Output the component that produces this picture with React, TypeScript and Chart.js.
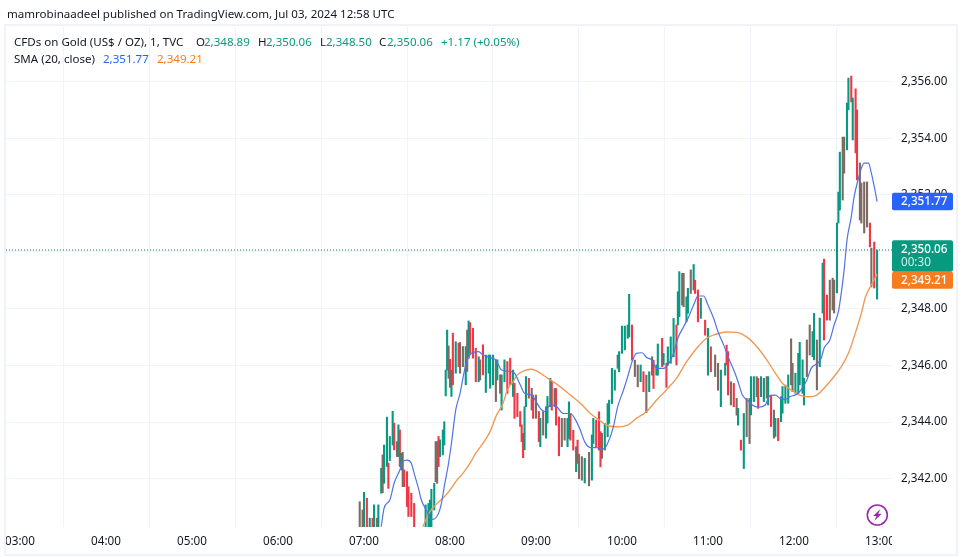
import React, { useEffect, useRef } from "react";
import { Chart, registerables } from "chart.js";

Chart.register(...registerables);

const FONT = "'Noto Sans', sans-serif";

const publishedLine = "mamrobinaadeel published on TradingView.com, Jul 03, 2024 12:58 UTC";
const instrumentName = "CFDs on Gold (US$ / OZ), 1, TVC";
const smaName = "SMA (20, close)";

const hourTicks = [180, 240, 300, 360, 420, 480, 540, 600, 660, 720, 780];
const priceTicks = [2342, 2344, 2346, 2348, 2350, 2352, 2354, 2356];

const lastClose = 2350.06;
const lastBlue = 2351.77;
const lastOrange = 2349.21;
const countdown = "00:30";

const candleMinutes = [
  417, 419, 420, 422, 424, 426, 427, 429, 430, 432,
  433, 434, 436, 437, 438, 440, 441, 443, 444, 445,
  446, 447, 448, 450, 451, 453, 455, 463, 465, 466,
  467, 469, 470, 471, 472, 473, 475, 476, 477, 478,
  479, 480, 481, 482, 484, 486, 487, 489, 491, 492,
  493, 494, 496, 498, 500, 501, 503, 505, 507, 508,
  510, 512, 513, 515, 516, 518, 520, 522, 524, 525,
  527, 529, 530, 531, 532, 533, 535, 537, 538, 540,
  542, 543, 545, 547, 548, 550, 551, 553, 554, 556,
  558, 560, 562, 563, 564, 566, 568, 569, 570, 572,
  574, 577, 579, 580, 582, 584, 585, 586, 588, 590,
  591, 593, 595, 597, 598, 600, 602, 604, 605, 607,
  609, 611, 613, 615, 617, 619, 621, 622, 624, 625,
  628, 629, 631, 632, 634, 636, 638, 639, 640, 642,
  643, 645, 646, 648, 650, 651, 653, 655, 658, 660,
  662, 665, 667, 669, 672, 673, 674, 676, 678, 680,
  681, 683, 685, 687, 689, 690, 692, 694, 695, 697,
  699, 701, 702, 704, 706, 707, 709, 711, 712, 714,
  716, 718, 719, 721, 723, 724, 726, 727, 729, 731,
  733, 734, 736, 738, 740, 741, 743, 745, 747, 748,
  750, 751, 752, 754, 755, 757, 758, 760, 761, 763,
  764, 766, 767, 769, 771, 773, 774, 776, 778,
];

const candleHighs = [
  2341.19, 2340.9, 2341.52, 2341.31, 2340.61, 2340.61, 2341.08, 2340.61, 2341.08, 2342.37,
  2342.84, 2343.19, 2344.17, 2342.55, 2343.49, 2344.38, 2343.96, 2343.31, 2343.9, 2343.72,
  2342.9, 2342.93, 2342.31, 2342.25, 2341.72, 2341.49, 2341.13, 2341.08, 2341.13, 2341.25,
  2341.63, 2341.84, 2343.31, 2343.31, 2343.49, 2343.37, 2343.72, 2344.01, 2345.83, 2347.24,
  2346.68, 2346.21, 2345.83, 2347.13, 2346.83, 2346.78, 2346.8, 2346.66, 2346.66, 2347.24,
  2347.56, 2347.5, 2347.3, 2346.6, 2346.3, 2346.19, 2346.72, 2346.36, 2346.36, 2346.36,
  2346.36, 2346.19, 2346.19, 2345.66, 2345.66, 2346.19, 2346.13, 2346.25, 2345.83, 2345.36,
  2345.01, 2344.37, 2343.9, 2343.6, 2344.54, 2345.6, 2345.54, 2345.19, 2344.95, 2344.95,
  2344.37, 2344.13, 2344.37, 2344.54, 2344.9, 2345.54, 2345.44, 2345.18, 2345.18, 2344.18,
  2344.13, 2344.13, 2344.13, 2344.71, 2344.3, 2343.71, 2343.13, 2343.36, 2342.87, 2342.78,
  2342.72, 2342.93, 2343.54, 2344.13, 2344.07, 2344.36, 2343.66, 2343.6, 2343.95, 2344.65,
  2344.77, 2345.89, 2345.83, 2346.36, 2346.48, 2347.38, 2347.38, 2347.42, 2348.5, 2347.42,
  2346.18, 2346.01, 2346.01, 2345.77, 2345.65, 2345.77, 2346.3, 2346.18, 2346.01, 2346.75,
  2346.95, 2346.42, 2346.07, 2346.65, 2347, 2347.65, 2347.42, 2348.59, 2349.3, 2349.24,
  2349.24, 2348.41, 2348.71, 2349.36, 2349.55, 2349, 2348.65, 2348.36, 2347.59, 2347.3,
  2346.65, 2346.36, 2346.07, 2345.83, 2346.07, 2346.71, 2346.48, 2345.42, 2345.36, 2344.83,
  2344.48, 2343.36, 2344.3, 2344.83, 2344.83, 2345.6, 2345.6, 2345.6, 2345.54, 2345.6,
  2345.54, 2345.6, 2345.6, 2344.95, 2344.42, 2344.13, 2344.13, 2344.89, 2345.25, 2345.3,
  2345.66, 2346.93, 2346.07, 2345.72, 2346.42, 2346.81, 2346.19, 2345.54, 2346.89, 2347.42,
  2347.19, 2347.83, 2346.89, 2347.66, 2349.6, 2349.74, 2348.47, 2349, 2349.07, 2349,
  2351.01, 2352.1, 2353.51, 2354.04, 2354.04, 2355.24, 2356.12, 2356.19, 2355.42, 2355.74,
  2355, 2353.13, 2352.42, 2352.46, 2352.46, 2351.01, 2350.13, 2350.34, 2350.06,
];

const candleLows = [
  2340, 2340, 2340, 2340, 2340, 2340, 2340, 2340, 2340, 2341.49,
  2341.51, 2341.84, 2342.43, 2341.66, 2342.64, 2343.19, 2343.02, 2342.78, 2342.78, 2342.43,
  2342.31, 2341.72, 2341.72, 2341.02, 2340.67, 2340.67, 2340.31, 2340, 2340, 2340,
  2340, 2340.9, 2341.9, 2341.84, 2342.43, 2342.78, 2342.84, 2343.19, 2344.92, 2345.83,
  2345.54, 2345.22, 2344.9, 2345.31, 2345.72, 2345.95, 2345.72, 2345.95, 2345.31, 2345.78,
  2346.25, 2346.42, 2346.25, 2345.42, 2345.42, 2345.48, 2345.66, 2345.04, 2345.72, 2345.19,
  2345.31, 2344.72, 2345.48, 2345.01, 2344.42, 2345.42, 2345.01, 2345.31, 2344.9, 2344.13,
  2344.19, 2343.84, 2343.31, 2342.74, 2343.02, 2344.54, 2344.84, 2344.42, 2344.13, 2344.13,
  2343.31, 2343.13, 2343.54, 2343.43, 2343.96, 2344.54, 2344.42, 2344.54, 2343.89, 2342.81,
  2343.13, 2343.36, 2343.13, 2343.42, 2343.36, 2343.01, 2342.25, 2342.54, 2342, 2341.95,
  2341.85, 2341.75, 2341.95, 2343.24, 2343.13, 2343.01, 2342.42, 2342.72, 2343.01, 2343.48,
  2343.95, 2344.65, 2345.12, 2345.89, 2345.77, 2346.42, 2346.54, 2346.95, 2347, 2346.18,
  2345.6, 2345.24, 2345.42, 2345.07, 2344.33, 2345.07, 2345.65, 2345.18, 2345.65, 2345.65,
  2345.95, 2346.01, 2345.22, 2346.01, 2346.07, 2346.3, 2346.01, 2347.42, 2347.71, 2348.12,
  2348.06, 2347.53, 2347.83, 2348.53, 2348.65, 2348.53, 2347.53, 2347.65, 2347.06, 2345.65,
  2345.77, 2345.6, 2345.12, 2344.54, 2345.65, 2346.01, 2344.95, 2344.6, 2344.54, 2344.24,
  2343.89, 2343.01, 2342.36, 2343.48, 2343.24, 2344.25, 2344.72, 2344.89, 2344.48, 2344.89,
  2344.72, 2344.84, 2344.6, 2343.84, 2343.43, 2343.49, 2343.34, 2344.01, 2344.31, 2344.66,
  2344.66, 2345.31, 2345.07, 2345.01, 2345.01, 2345.31, 2345.01, 2344.6, 2345.6, 2346.36,
  2346.3, 2346.19, 2345.13, 2345.95, 2347.84, 2346.89, 2347.59, 2347.59, 2347.95, 2347.84,
  2348.55, 2351.01, 2351.47, 2351.82, 2352.77, 2353.59, 2355, 2355.28, 2353.94, 2353.48,
  2352.53, 2351.12, 2351.01, 2350.66, 2350.87, 2350.17, 2348.76, 2348.72, 2348.33,
];

// t = rising, r = falling, b = rising and falling candles merged at this scale
const candleTones = [
  "bbtrtrtbtt", "bttrttrbtr", "tbrrrrrttt", "ttbbrttttt", "brtrtrbbtb", "trrrtbrttt",
  "tbtrttrrtr", "rrrrttrbrb", "rtbtttrbrr", "bbttrrtrbb", "tbttrrrbtt", "tttbtttttr",
  "bbtrbtbrtt", "rtrtttrttb", "bttbtrrtrt", "rbbttrrbrb", "trtbbttbrt", "tbtrbtrttt",
  "tbbtttttbb", "ttbttrrbbb", "tttbbttrtr", "rbbbbrbrt",
].join("");

const blueMinutes = [
  432, 434, 438, 441, 445, 447, 450, 453, 455, 458, 460, 464, 466, 468, 472, 474, 476, 479, 481, 484,
  487, 489, 491, 495, 500, 503, 509, 512, 516, 522, 525, 529, 532, 537, 540, 543, 546,
  550, 554, 559, 564, 567, 571, 574, 578, 582, 587, 590, 594, 597, 601, 604, 607, 610, 614, 617, 621,
  624, 629, 632, 636, 639, 643, 646, 650, 653, 657, 660, 664, 667, 671, 674, 678, 681, 684, 689,
  691, 695, 700, 703, 707, 710, 714, 717, 722, 725, 729, 732, 737, 739, 741, 745, 748, 751, 753, 755,
  757, 760, 762, 765, 767, 769, 772, 774, 776, 778,
];
const blueValues = [
  2340.31, 2340.96, 2341.25, 2341.84, 2342.31, 2342.6, 2342.66, 2342.55, 2342.19, 2341.66, 2341.25, 2340.84, 2340.61, 2340.57, 2340.78, 2341.13, 2341.72, 2342.55, 2343.25, 2344.43,
  2345.01, 2345.54, 2346.01, 2346.42, 2346.48, 2346.36, 2346.25, 2346.19, 2345.83, 2345.78, 2345.72, 2345.31, 2345.01, 2344.95, 2344.72, 2344.48, 2344.37,
  2344.6, 2344.56, 2344.3, 2344.3, 2344.13, 2343.71, 2343.3, 2343.1, 2343.1, 2343.05, 2343.25, 2343.83, 2344.54, 2345.12, 2345.6, 2346.12, 2346.42, 2346.44, 2346.28, 2346.18,
  2345.89, 2345.89, 2346.01, 2346.42, 2346.95, 2347.36, 2347.65, 2348.12, 2348.44, 2348.44, 2348.12, 2347.65, 2347.18, 2346.71, 2346.3, 2345.83, 2345.42, 2344.95, 2344.71,
  2344.6, 2344.52, 2344.6, 2344.92, 2344.95, 2344.84, 2344.8, 2344.89, 2344.98, 2345.13, 2345.48, 2345.89, 2346.09, 2346.25, 2346.6, 2346.89, 2347.42, 2347.89, 2348.54, 2349.36,
  2350.41, 2351.24, 2351.94, 2352.59, 2352.94, 2353.12, 2353.12, 2352.77, 2352.3, 2351.77,
];

const orangeMinutes = [
  461, 466, 470, 475, 480, 484, 489, 494, 498, 503, 508, 512, 517, 520, 524, 527, 532, 537, 541, 546,
  550, 557, 564, 571, 578, 584, 591, 598, 604, 610, 617, 624, 631, 638, 645, 652, 659, 666, 673, 680, 684, 689,
  695, 701, 707, 712, 718, 724, 730, 736, 741, 747, 753, 758, 762, 767, 770, 774, 778,
];
const orangeValues = [
  2340.31, 2340.84, 2341.08, 2341.31, 2341.6, 2341.9, 2342.19, 2342.55, 2342.9, 2343.25, 2343.66, 2344.19, 2344.66, 2345.13, 2345.42, 2345.66, 2345.81, 2345.86, 2345.78, 2345.62,
  2345.48, 2345.24, 2344.95, 2344.66, 2344.3, 2344.07, 2343.86, 2343.83, 2343.89, 2344.13, 2344.36, 2344.77, 2345.13, 2345.54, 2346.12, 2346.59, 2346.95, 2347.1, 2347.17, 2347.16, 2347.09, 2346.92,
  2346.6, 2346.19, 2345.72, 2345.36, 2345.13, 2344.95, 2344.89, 2344.95, 2345.19, 2345.54, 2345.95, 2346.42, 2347.01, 2347.83, 2348.42, 2348.83, 2349.21,
];

const TEAL = "#089981";
const RED = "#f23645";
const BROWN = "#7e6a62";
const BLUE = "#2962ff";
const ORANGE = "#f57c1f";
const GRID = "#f0f3fa";
const INK = "#131722";
const toneColours: Record<string, string> = { t: TEAL, r: RED, b: BROWN };

const money = (v: number) =>
  v.toLocaleString("en-US", { minimumFractionDigits: 2, maximumFractionDigits: 2 });
const clock = (m: number) =>
  `${String(Math.floor(m / 60)).padStart(2, "0")}:${String(m % 60).padStart(2, "0")}`;

const tagsPlugin = {
  id: "tags",
  afterDraw(chart: any) {
    const { ctx, chartArea, scales } = chart;
    const right = chartArea.right;
    const tagW = 61;
    ctx.save();
    // the time labels are cut off at the pane's two edges
    ctx.fillStyle = "#ffffff";
    ctx.fillRect(right, chartArea.bottom, 70, 26);
    ctx.fillRect(0, chartArea.bottom, chartArea.left, 26);

    // frame
    ctx.strokeStyle = GRID;
    ctx.lineWidth = 2;
    ctx.strokeRect(5, 25, 952, 530);

    const text = (s: string, y: number, colour: string, weight = 500) => {
      ctx.fillStyle = colour;
      ctx.font = `${weight} 11.7px ${FONT}`;
      ctx.textAlign = "left";
      ctx.textBaseline = "middle";
      ctx.fillText(s, 901, y);
    };
    const tag = (top: number, h: number, colour: string) => {
      ctx.fillStyle = colour;
      ctx.beginPath();
      ctx.roundRect(right, top, tagW, h, 2);
      ctx.fill();
    };

    const yBlue = scales.y.getPixelForValue(lastBlue);
    tag(yBlue - 8.7, 17.4, BLUE);
    text(money(lastBlue), yBlue, "#ffffff");

    const yClose = scales.y.getPixelForValue(lastClose);
    tag(yClose - 9.7, 31.4, TEAL);
    text(money(lastClose), yClose, "#ffffff");
    text(countdown, yClose + 13, "#d3efe9", 400);

    const orangeTop = yClose + 21.7;
    tag(orangeTop, 17, ORANGE);
    text(money(lastOrange), orangeTop + 8.5, "#ffffff");

    // purple badge
    const cx = 877.3;
    const cy = 515;
    ctx.fillStyle = "#ffffff";
    ctx.strokeStyle = "#9c27b0";
    ctx.lineWidth = 1.6;
    ctx.beginPath();
    ctx.arc(cx, cy, 10, 0, Math.PI * 2);
    ctx.fill();
    ctx.stroke();
    ctx.fillStyle = "#9c27b0";
    ctx.beginPath();
    ctx.moveTo(cx + 3.2, cy - 6);
    ctx.lineTo(cx - 4.2, cy + 1);
    ctx.lineTo(cx - 0.8, cy + 1);
    ctx.lineTo(cx - 3, cy + 6);
    ctx.lineTo(cx + 4.4, cy - 1.2);
    ctx.lineTo(cx + 0.9, cy - 1.2);
    ctx.closePath();
    ctx.fill();
    ctx.restore();
  },
};

const Label = ({ left, top, colour, children }: any) => (
  <span
    style={{
      position: "absolute",
      left,
      top,
      color: colour,
      font: `11.55px/16px ${FONT}`,
      whiteSpace: "nowrap",
    }}
  >
    {children}
  </span>
);

export default function App() {
  const ref = useRef<HTMLCanvasElement>(null);

  useEffect(() => {
    const chart = new Chart(ref.current as HTMLCanvasElement, {
      type: "bar",
      data: {
        datasets: [
          {
            type: "line",
            label: "SMA 20",
            data: blueMinutes.map((x, i) => ({ x, y: blueValues[i] })),
            borderColor: "#4f74e3",
            borderWidth: 1.2,
            pointRadius: 0,
            cubicInterpolationMode: "monotone",
            order: 1,
          },
          {
            type: "line",
            label: "SMA 20 (second)",
            data: orangeMinutes.map((x, i) => ({ x, y: orangeValues[i] })),
            borderColor: "#f09a58",
            borderWidth: 1.4,
            pointRadius: 0,
            cubicInterpolationMode: "monotone",
            order: 2,
          },
          {
            type: "bar",
            label: "Gold",
            data: candleMinutes.map((x, i) => ({ x, y: [candleLows[i], candleHighs[i]] })),
            backgroundColor: candleMinutes.map((_, i) => toneColours[candleTones[i]]),
            borderWidth: 0,
            barThickness: 1.45,
            order: 3,
          },
          {
            type: "line",
            label: "Last close",
            data: [
              { x: 170.2, y: lastClose },
              { x: 788.4, y: lastClose },
            ],
            borderColor: "#057a67",
            borderWidth: 1.1,
            borderDash: [1, 2],
            pointRadius: 0,
            order: 4,
          },
        ],
      } as any,
      options: {
        responsive: false,
        animation: false,
        devicePixelRatio: 1,
        layout: { padding: { left: 6, top: 27, right: 0, bottom: 0 } },
        plugins: { legend: { display: false }, tooltip: { enabled: false } },
        scales: {
          x: {
            type: "linear",
            min: 170.2,
            max: 788.4,
            offset: false,
            afterBuildTicks: (s: any) => {
              s.ticks = hourTicks.map((value) => ({ value }));
            },
            afterFit: (s: any) => {
              s.height = 30;
              s.paddingLeft = 0;
              s.paddingRight = 0;
            },
            grid: { color: GRID, drawTicks: false, lineWidth: 1 },
            border: { display: false },
            ticks: {
              autoSkip: false,
              maxRotation: 0,
              padding: 8,
              color: INK,
              font: { family: FONT, size: 11.7 },
              callback: (v: any) => clock(Number(v)),
            },
          },
          y: {
            type: "linear",
            position: "right",
            min: 2340.3,
            max: 2357.92,
            afterBuildTicks: (s: any) => {
              s.ticks = priceTicks.map((value) => ({ value }));
            },
            afterFit: (s: any) => {
              s.width = 76;
            },
            grid: { color: GRID, drawTicks: false, lineWidth: 1 },
            border: { display: false },
            ticks: {
              padding: 9,
              color: INK,
              font: { family: FONT, size: 11.7 },
              callback: (v: any) => money(Number(v)),
            },
          },
        },
      } as any,
      plugins: [tagsPlugin],
    });
    return () => chart.destroy();
  }, []);

  return (
    <div
      style={{
        position: "fixed",
        left: 0,
        top: 0,
        width: 968,
        height: 557,
        background: "#ffffff",
        overflow: "hidden",
      }}
    >
      <canvas ref={ref} width={968} height={557} style={{ display: "block" }} />
      <Label left={7} top={6} colour={INK}>{publishedLine}</Label>
      <Label left={14} top={34} colour={INK}>{instrumentName}</Label>
      <Label left={196} top={34} colour={INK}>O</Label>
      <Label left={204} top={34} colour={TEAL}>{money(2348.89)}</Label>
      <Label left={258} top={34} colour={INK}>H</Label>
      <Label left={266} top={34} colour={TEAL}>{money(2350.06)}</Label>
      <Label left={320} top={34} colour={INK}>L</Label>
      <Label left={326} top={34} colour={TEAL}>{money(2348.5)}</Label>
      <Label left={379} top={34} colour={INK}>C</Label>
      <Label left={387} top={34} colour={TEAL}>{money(2350.06)}</Label>
      <Label left={441} top={34} colour={TEAL}>+1.17 (+0.05%)</Label>
      <Label left={14} top={51} colour={INK}>{smaName}</Label>
      <Label left={103} top={51} colour={BLUE}>{money(lastBlue)}</Label>
      <Label left={157} top={51} colour={ORANGE}>{money(lastOrange)}</Label>
    </div>
  );
}
